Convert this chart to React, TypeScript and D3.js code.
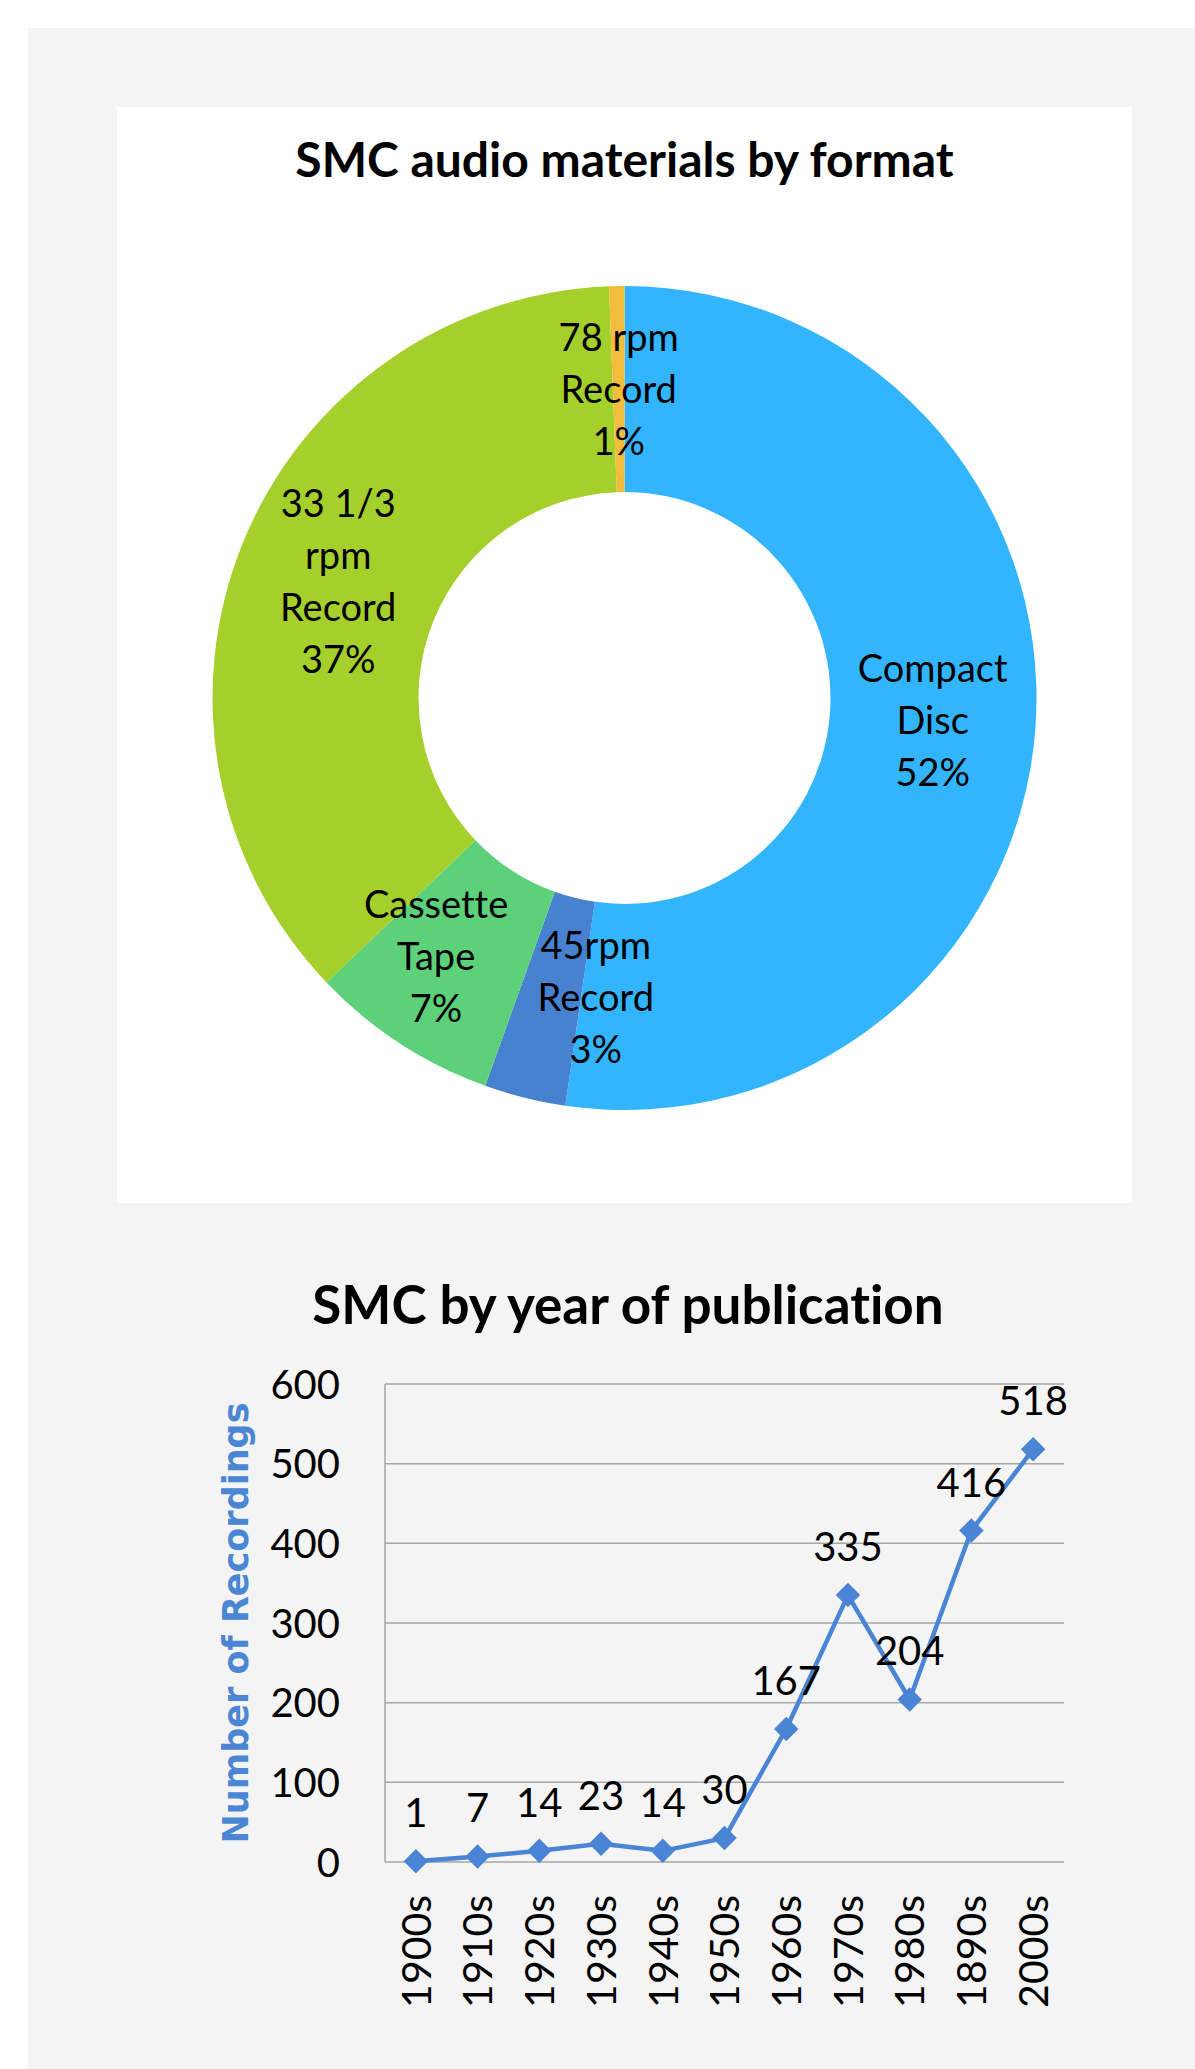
import React from 'react';
import * as d3 from 'd3';

// ---------- Data ----------
const formatNames: string[][] = [
  ['Compact', 'Disc'],
  ['45rpm', 'Record'],
  ['Cassette', 'Tape'],
  ['33 1/3', 'rpm', 'Record'],
  ['78 rpm', 'Record'],
];
const formatShares: number[] = [52.4, 3.2, 7.4, 36.6, 0.6];
const formatColors: string[] = ['#33B5FE', '#4682D0', '#5DD07A', '#A5CF2A', '#F4BC3C'];

const decades: string[] = ['1900s', '1910s', '1920s', '1930s', '1940s', '1950s', '1960s', '1970s', '1980s', '1890s', '2000s'];
const recordings: number[] = [1, 7, 14, 23, 14, 30, 167, 335, 204, 416, 518];
const yTicks: number[] = [0, 100, 200, 300, 400, 500, 600];

const pieTitle = 'SMC audio materials by format';
const lineTitle = 'SMC by year of publication';
const yAxisTitle = 'Number of Recordings';

// ---------- Style ----------
const FONT = 'Lato, "Open Sans", sans-serif';
const LABEL_SIZE = 38;
const TICK_SIZE = 40;
const LINE_BLUE = '#4A84D4';

let ctx: CanvasRenderingContext2D | null = null;
function measure(text: string, font: string): number {
  if (!ctx) ctx = document.createElement('canvas').getContext('2d');
  if (!ctx) return text.length * 18;
  ctx.font = font;
  return ctx.measureText(text).width;
}

export default function App() {
  const W = 1195;
  const H = 2069;

  // ---- Pie geometry ----
  const cx = 624.5;
  const cy = 698;
  const rOuter = 412;
  const rInner = 206;
  const pieGen = d3.pie<number>().sort(null).value((d) => d);
  const arcs = pieGen(formatShares);
  const arcGen = d3.arc<d3.PieArcDatum<number>>().innerRadius(rInner).outerRadius(rOuter);
  const total = d3.sum(formatShares);
  const pct = d3.format('.0%');
  const lineH = 52;

  const labels = arcs.map((a, i) => {
    const lines = [...formatNames[i], pct(formatShares[i] / total)];
    const c = d3.arc<d3.PieArcDatum<number>>()
      .innerRadius((rInner + rOuter) / 2)
      .outerRadius((rInner + rOuter) / 2)
      .centroid(a);
    const w = d3.max(lines, (l) => measure(l, `${LABEL_SIZE}px ${FONT}`)) || 0;
    return { lines, x: c[0], y: c[1], w, h: lines.length * lineH, m: formatShares[i] };
  });
  // simple overlap relaxation: push overlapping labels apart horizontally,
  // lighter (smaller) slices move more
  const gap = 30;
  for (let it = 0; it < 60; it++) {
    for (let i = 0; i < labels.length; i++) {
      for (let j = i + 1; j < labels.length; j++) {
        const A = labels[i];
        const B = labels[j];
        const yOver = Math.abs(A.y - B.y) < (A.h + B.h) / 2 - lineH;
        const need = (A.w + B.w) / 2 + gap;
        const dist = Math.abs(A.x - B.x);
        if (yOver && dist < need) {
          const o = need - dist;
          const s = A.x < B.x ? -1 : 1;
          A.x += s * o * (B.m / (A.m + B.m));
          B.x -= s * o * (A.m / (A.m + B.m));
        }
      }
    }
  }

  // ---- Line chart geometry ----
  const plotL = 385;
  const plotR = 1064;
  const plotT = 1384;
  const plotB = 1862;
  const x = d3.scalePoint<string>().domain(decades).range([plotL, plotR]).padding(0.5);
  const y = d3.scaleLinear().domain([0, 600]).range([plotB, plotT]);
  const lineGen = d3.line<number>()
    .x((_, i) => x(decades[i]) as number)
    .y((d) => y(d));
  const diamond = d3.symbol().type(d3.symbolSquare).size(300)();

  return (
    <div style={{ position: 'absolute', left: 0, top: 0, width: W, height: H, overflow: 'hidden' }}>
      <svg
        width={W}
        height={H}
        style={{ display: 'block', fontVariantLigatures: 'none', fontFeatureSettings: '"liga" 0, "clig" 0' }}
        fontFamily={FONT}
      >
        <rect x={0} y={0} width={W} height={H} fill="#ffffff" />
        <rect x={28} y={28} width={W - 28} height={H - 28} fill="#F4F4F4" />
        <rect x={117} y={107} width={1132 - 117} height={1203 - 107} fill="#ffffff" />

        {/* Pie chart */}
        <text x={624.5} y={177} textAnchor="middle" fontSize={48} fontWeight="bold" fill="#000">
          {pieTitle}
        </text>
        <g transform={`translate(${cx},${cy})`}>
          {arcs.map((a, i) => (
            <path key={i} d={arcGen(a) || ''} fill={formatColors[i]} />
          ))}
          {labels.map((L, i) => (
            <text key={i} textAnchor="middle" fontSize={LABEL_SIZE} fill="#000">
              {L.lines.map((t, k) => (
                <tspan key={k} x={L.x} y={L.y + (k - (L.lines.length - 1) / 2) * lineH + 13.5}>
                  {t}
                </tspan>
              ))}
            </text>
          ))}
        </g>

        {/* Line chart */}
        <text x={628} y={1324} textAnchor="middle" fontSize={53} fontWeight="bold" fill="#000">
          {lineTitle}
        </text>
        {yTicks.map((t) => (
          <g key={t}>
            <line x1={plotL} x2={plotR} y1={y(t)} y2={y(t)} stroke="#A6A6A6" strokeWidth={1.5} />
            <text x={340} y={y(t) + 14.5} textAnchor="end" fontSize={TICK_SIZE} fill="#000">
              {t}
            </text>
          </g>
        ))}
        <line x1={plotL} x2={plotL} y1={plotT} y2={plotB} stroke="#A6A6A6" strokeWidth={1.5} />
        <text
          transform={`translate(248,${(plotT + plotB) / 2}) rotate(-90)`}
          textAnchor="middle"
          fontSize={35}
          fontWeight="bold"
          fontFamily='"DejaVu Sans", Verdana, sans-serif'
          fill="#4A86D4"
        >
          {yAxisTitle}
        </text>
        {decades.map((d) => (
          <text
            key={d}
            transform={`translate(${x(d)},1895) rotate(-90)`}
            textAnchor="end"
            dy="0.36em"
            fontSize={TICK_SIZE + 1}
            fill="#000"
          >
            {d}
          </text>
        ))}
        <path d={lineGen(recordings) || ''} fill="none" stroke={LINE_BLUE} strokeWidth={4.5} strokeLinejoin="round" />
        {recordings.map((v, i) => (
          <path
            key={i}
            d={diamond || ''}
            transform={`translate(${x(decades[i])},${y(v)}) rotate(45)`}
            fill={LINE_BLUE}
          />
        ))}
        {recordings.map((v, i) => (
          <text key={i} x={x(decades[i])} y={y(v) - 34} textAnchor="middle" fontSize={TICK_SIZE} fill="#000">
            {v}
          </text>
        ))}
      </svg>
    </div>
  );
}
